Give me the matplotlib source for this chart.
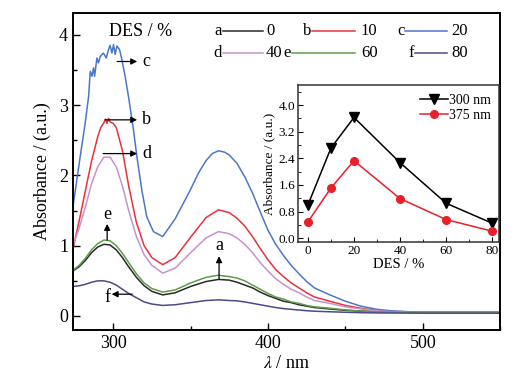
import matplotlib
matplotlib.use("Agg")
import matplotlib.pyplot as plt
from matplotlib.ticker import MultipleLocator

plt.rcParams['font.family'] = ['Liberation Serif', 'DejaVu Serif']
plt.rcParams['mathtext.fontset'] = 'stix'

# UV-vis spectra (absorbance vs wavelength / nm)
wl = [274, 278, 282, 286, 290, 294, 298, 302, 306, 310, 315, 320, 325, 332, 340,
      350, 360, 368, 375, 380, 385, 390, 395, 400, 405, 410, 415, 420, 425, 430,
      440, 450, 460, 470, 480, 500, 525, 550]
abs_a = [0.64, 0.70, 0.79, 0.90, 0.98, 1.02, 1.01, 0.94, 0.83, 0.70, 0.55, 0.43, 0.35, 0.30, 0.33,
         0.42, 0.49, 0.52, 0.51, 0.48, 0.44, 0.40, 0.34, 0.29, 0.25, 0.21, 0.19, 0.16, 0.14, 0.12,
         0.10, 0.08, 0.07, 0.06, 0.055, 0.05, 0.05, 0.05]
abs_d = [1.00, 1.25, 1.55, 1.88, 2.12, 2.26, 2.26, 2.12, 1.85, 1.50, 1.13, 0.87, 0.72, 0.61, 0.68,
         0.90, 1.11, 1.20, 1.17, 1.11, 1.02, 0.90, 0.76, 0.64, 0.53, 0.45, 0.38, 0.33, 0.27, 0.22,
         0.18, 0.13, 0.10, 0.075, 0.06, 0.05, 0.05, 0.05]
abs_e = [0.65, 0.72, 0.82, 0.94, 1.03, 1.08, 1.07, 1.00, 0.89, 0.76, 0.60, 0.47, 0.39, 0.34, 0.37,
         0.47, 0.55, 0.58, 0.56, 0.54, 0.50, 0.44, 0.38, 0.32, 0.27, 0.24, 0.20, 0.18, 0.15, 0.13,
         0.11, 0.087, 0.07, 0.06, 0.055, 0.05, 0.05, 0.05]
abs_f = [0.42, 0.43, 0.45, 0.48, 0.50, 0.50, 0.48, 0.44, 0.38, 0.32, 0.26, 0.20, 0.17, 0.15, 0.16,
         0.19, 0.22, 0.23, 0.22, 0.215, 0.20, 0.18, 0.16, 0.14, 0.12, 0.105, 0.095, 0.085, 0.075, 0.068,
         0.06, 0.053, 0.047, 0.044, 0.042, 0.04, 0.04, 0.04]

wl_b = [274, 278, 282, 286, 290, 292, 294, 295, 296, 297, 298, 300, 302, 306, 310, 315, 320, 325,
        332, 340, 350, 360, 368, 375, 380, 385, 390, 395, 400, 405, 410, 415, 420, 425, 430,
        440, 450, 460, 470, 480, 500, 525, 550]
abs_b = [0.95, 1.35, 1.78, 2.2, 2.55, 2.68, 2.75, 2.80, 2.74, 2.81, 2.76, 2.74, 2.68, 2.35, 1.85, 1.33, 1.0, 0.83,
         0.73, 0.83, 1.12, 1.40, 1.51, 1.47, 1.39, 1.28, 1.13, 0.96, 0.80, 0.66, 0.56, 0.47, 0.40, 0.33, 0.27,
         0.21, 0.15, 0.11, 0.08, 0.065, 0.055, 0.055, 0.055]

wl_c = [273, 274.4, 278.7, 281.9, 284.1, 285.2, 286.3, 287.3, 288.0, 289.5, 290.5, 291.6, 293.7, 295.5,
        297.0, 298.0, 299.2, 300.2, 301.3, 302.4, 304.1, 305.6, 307.7, 309.9, 313.1, 315.3, 318.5,
        321.7, 326, 332, 340, 350, 355, 360, 364, 368, 372, 375, 380, 385, 390, 395, 400, 405, 410, 415, 420,
        425, 430, 440, 450, 460, 470, 480, 500, 525, 550]
abs_c = [1.45, 1.61, 2.27, 2.74, 3.12, 3.48, 3.41, 3.53, 3.41, 3.67, 3.60, 3.69, 3.74, 3.67,
         3.79, 3.85, 3.74, 3.86, 3.72, 3.84, 3.79, 3.65, 3.41, 3.12, 2.65, 2.27, 1.79,
         1.41, 1.20, 1.13, 1.38, 1.80, 2.03, 2.21, 2.31, 2.35, 2.33, 2.29, 2.17, 1.98, 1.75, 1.48, 1.22, 1.02,
         0.86, 0.72, 0.60, 0.49, 0.40, 0.30, 0.21, 0.14, 0.096, 0.073, 0.05, 0.05, 0.05]

# inset: absorbance at the two band maxima vs DES content
des = [0, 10, 20, 40, 60, 80]
abs300 = [1.0, 2.71, 3.63, 2.27, 1.05, 0.45]
abs375 = [0.49, 1.51, 2.33, 1.19, 0.56, 0.21]

letters = ['a', 'b', 'c', 'd', 'e', 'f']
des_labels = ['0', '10', '20', '40', '60', '80']
colors = ['#2a2a2a', '#e8323c', '#4a78c8', '#c892cc', '#5e9c4a', '#4a4a8c']

fig = plt.figure(figsize=(5.21, 3.82), dpi=100)
ax = fig.add_axes([0.140, 0.136, 0.820, 0.830])

curves = [(wl, abs_a), (wl_b, abs_b), (wl_c, abs_c), (wl, abs_d), (wl, abs_e), (wl, abs_f)]
for (x, y), col in zip(curves, colors):
    ax.plot(x, y, color=col, lw=1.1)

ax.set_xlim(274, 550)
ax.set_ylim(-0.2, 4.31)
ax.xaxis.set_major_locator(MultipleLocator(100))
ax.xaxis.set_minor_locator(MultipleLocator(50))
ax.yaxis.set_major_locator(MultipleLocator(1))
ax.yaxis.set_minor_locator(MultipleLocator(0.5))
ax.tick_params(which='both', direction='in', labelsize=13, top=False, right=False)
ax.tick_params(which='major', length=5, width=1)
ax.tick_params(which='minor', length=3, width=1)
for s in ax.spines.values():
    s.set_linewidth(1.4)
ax.set_xlabel(r'$\lambda$ / nm', fontsize=13, labelpad=2)
ax.set_ylabel('Absorbance / (a.u.)', fontsize=13, labelpad=6)

# hand made legend: letter, line, DES value
ax.text(0.159, 0.943, 'DES / %', transform=ax.transAxes, fontsize=13, ha='center', va='center')
leg_rows = [0.943, 0.943, 0.943, 0.874, 0.874, 0.874]
leg_x0 = [0.351, 0.560, 0.778, 0.351, 0.512, 0.801]
leg_x1 = [0.445, 0.660, 0.876, 0.445, 0.660, 0.876]
leg_num = [0.452, 0.674, 0.886, 0.452, 0.674, 0.886]
for i in range(6):
    yy = leg_rows[i]
    ax.plot([leg_x0[i], leg_x1[i]], [yy, yy], color=colors[i], lw=1.1,
            transform=ax.transAxes, clip_on=False)
    ax.text(leg_x0[i] - 0.002, yy, letters[i], transform=ax.transAxes, fontsize=12,
            ha='right', va='center')
    ax.text(leg_num[i], yy, des_labels[i], transform=ax.transAxes, fontsize=12,
            ha='left', va='center')

# arrows marking the curves
arw = dict(arrowstyle='-|>', color='k', lw=0.9, mutation_scale=9, shrinkA=0, shrinkB=0)
ax.annotate('', xy=(315.5, 3.62), xytext=(302.6, 3.62), arrowprops=arw)
ax.text(321.3, 3.62, 'c', fontsize=13, ha='center', va='center')
ax.annotate('', xy=(315.5, 2.79), xytext=(294.8, 2.79), arrowprops=arw)
ax.text(321.3, 2.79, 'b', fontsize=13, ha='center', va='center')
ax.annotate('', xy=(315.5, 2.31), xytext=(293.5, 2.31), arrowprops=arw)
ax.text(322.0, 2.31, 'd', fontsize=13, ha='center', va='center')
ax.annotate('', xy=(296.1, 1.31), xytext=(296.1, 1.08), arrowprops=arw)
ax.text(296.1, 1.45, 'e', fontsize=13, ha='center', va='center')
ax.annotate('', xy=(368.4, 0.85), xytext=(368.4, 0.53), arrowprops=arw)
ax.text(368.4, 1.0, 'a', fontsize=13, ha='center', va='center')
ax.annotate('', xy=(299.0, 0.31), xytext=(312.3, 0.31), arrowprops=arw)
ax.text(296.1, 0.27, 'f', fontsize=13, ha='center', va='center')

# inset
ins = fig.add_axes([0.572, 0.366, 0.386, 0.411])
ins.plot(des, abs300, color='k', lw=1.1, marker='v', ms=6.5, label='300 nm')
ins.plot(des, abs375, color='#e8202a', lw=1.1, marker='o', ms=5.5, label='375 nm')
ins.set_xlim(-4.3, 83)
ins.set_ylim(-0.12, 4.6)
ins.xaxis.set_major_locator(MultipleLocator(20))
ins.xaxis.set_minor_locator(MultipleLocator(10))
ins.yaxis.set_major_locator(MultipleLocator(0.8))
ins.yaxis.set_minor_locator(MultipleLocator(0.4))
ins.yaxis.set_major_formatter(matplotlib.ticker.FormatStrFormatter('%.1f'))
ins.tick_params(which='both', direction='in', labelsize=9.5, top=False, right=False, pad=2)
ins.tick_params(which='major', length=3.5)
ins.tick_params(which='minor', length=2)
for s in ins.spines.values():
    s.set_linewidth(1.1)
    s.set_color('#333333')
ins.set_xlabel('DES / %', fontsize=10.5, labelpad=1)
ins.set_ylabel('Absorbance / (a.u.)', fontsize=9.5, labelpad=2)
ins.legend(loc='upper right', frameon=False, fontsize=10, handlelength=2.0,
           handletextpad=0.1, borderaxespad=0.2, labelspacing=0.2)

fig.savefig('out.png', dpi=100)
